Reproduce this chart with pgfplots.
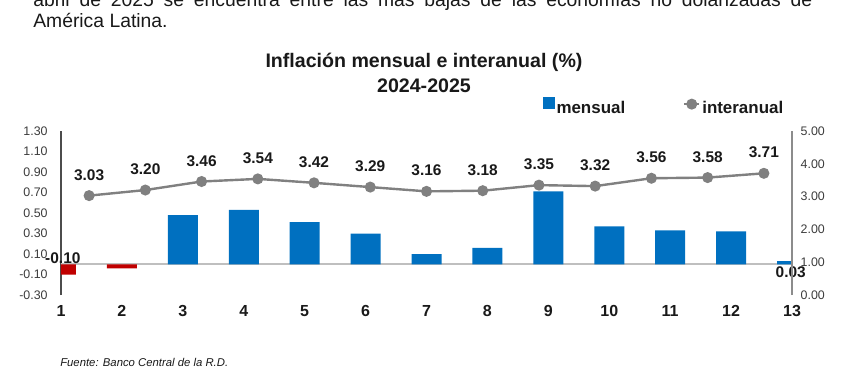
\documentclass[border=0pt]{standalone}
\usepackage{fontspec}
\setmainfont{Liberation Sans}
\usepackage{pgfplots}
\usepackage{pgfplotstable}
\pgfplotsset{compat=1.18}
\pgfkeys{/pgf/number format/assume math mode=true}
\definecolor{barblue}{RGB}{0,112,192}
\definecolor{barred}{RGB}{192,0,0}
\definecolor{linegray}{RGB}{128,128,128}
\definecolor{tickgray}{RGB}{60,60,60}
\definecolor{txt}{RGB}{25,25,25}
\pgfplotsset{
  intlegend/.style={legend image code/.code={\draw[##1, mark repeat=2, mark phase=2] plot coordinates {(0pt,3pt) (5.5pt,3pt) (11pt,3pt)};}},
  barlegend/.style={legend image code/.code={\fill[barblue] (0pt,0pt) rectangle (8.25pt,8.25pt);}},
}

\pgfplotstableread{
x y
1 -0.10
2 -0.04
}\neg
\pgfplotstableread{
x y
3 0.48
4 0.53
5 0.41
6 0.30
7 0.10
8 0.16
9 0.71
10 0.37
11 0.33
12 0.32
13 0.03
}\pos
\pgfplotstableread{
x y
1 3.03
2 3.20
3 3.46
4 3.54
5 3.42
6 3.29
7 3.16
8 3.18
9 3.35
10 3.32
11 3.56
12 3.58
13 3.71
}\inter

\begin{document}
\begin{tikzpicture}
% paragraph text
\node[anchor=base west, inner sep=0, text=txt] at (33*0.75pt,-7*0.75pt)
  {\parbox[t]{584.25pt}{\fontsize{14.5}{15.75}\selectfont abril de 2025 se encuentra entre las más bajas de las economías no dolarizadas de\linebreak América Latina.}};
% title
\node[anchor=base, inner sep=0, text=txt, font=\bfseries\fontsize{14.7}{17}\selectfont] at (424*0.75pt,-68*0.75pt) {Inflación mensual e interanual (\%)};
\node[anchor=base, inner sep=0, text=txt, font=\bfseries\fontsize{14.7}{17}\selectfont] at (424*0.75pt,-93*0.75pt) {2024-2025};

\begin{axis}[
  at={(61*0.75pt,-295*0.75pt)}, anchor=south west,
  scale only axis, width=731*0.75pt, height=164*0.75pt,
  xmin=1, xmax=13, ymin=-0.3, ymax=1.3,
  axis x line*=bottom, axis y line*=left,
  x axis line style={draw=none},
  y axis line style={draw=black!70, line width=0.8pt, -},
  major tick length=0pt,
  xtick={1,...,13},
  xticklabel style={font=\bfseries\fontsize{12}{14}\selectfont, text=txt, yshift=-4pt},
  ytick={-0.3,-0.1,0.1,0.3,0.5,0.7,0.9,1.1,1.3},
  yticklabel style={font=\fontsize{9.3}{11}\selectfont, text=tickgray, xshift=-6.5pt,
    /pgf/number format/.cd, fixed, fixed zerofill, precision=2},
  clip mode=individual,
]
\addplot[draw=black!25, line width=1.2pt, forget plot] coordinates {(1,0) (13,0)};
\addplot[ybar, bar width=22.5pt, bar shift=0pt, fill=barred, draw=none] table {\neg};
\addplot[ybar, bar width=22.5pt, bar shift=0pt, fill=barblue, draw=none] table {\pos};
\node[font=\bfseries\fontsize{11.6}{13}\selectfont, text=txt, inner sep=0] at (axis cs:1.03,0.06) {-0.10};
\node[font=\bfseries\fontsize{11.6}{13}\selectfont, text=txt, inner sep=0] at (axis cs:12.98,-0.08) {0.03};
\end{axis}

\begin{axis}[
  at={(61*0.75pt,-295*0.75pt)}, anchor=south west,
  scale only axis, width=731*0.75pt, height=164*0.75pt,
  xmin=0.5, xmax=13.5, ymin=0, ymax=5,
  axis x line=none, axis y line*=right,
  y axis line style={draw=black!45, line width=0.8pt, -},
  major tick length=0pt,
  ytick={0,1,2,3,4,5},
  yticklabel style={font=\fontsize{9.3}{11}\selectfont, text=tickgray, xshift=3pt,
    /pgf/number format/.cd, fixed, fixed zerofill, precision=2},
  clip=false,
  legend columns=2,
  legend cell align=left,
  legend style={at={(0.659,1.146)}, anchor=west, draw=none, fill=none, inner sep=0pt,
    font=\bfseries\fontsize{12.7}{14}\selectfont, text=txt,
    nodes={inner sep=1.5pt},
    /tikz/every even column/.append style={column sep=42pt}},
]
\addlegendimage{barlegend}
\addlegendentry{mensual}
\addplot[color=linegray, line width=1.8pt, mark=*, mark size=3.2pt,
  mark options={fill=linegray, draw=linegray},
  nodes near coords={\pgfmathprintnumber[fixed,fixed zerofill,precision=2]{\pgfplotspointmeta}},
  every node near coord/.append style={font=\bfseries\fontsize{11.6}{13}\selectfont, text=txt, inner sep=0pt, anchor=base, yshift=11.6pt},
  intlegend
] table {\inter};
\addlegendentry{interanual}
\end{axis}

% source
\node[anchor=base west, inner sep=0, text=txt, font=\itshape\fontsize{8.5}{10}\selectfont] at (60*0.75pt,-366*0.75pt) {Fuente: Banco Central de la R.D.};

\pgfresetboundingbox
\path[use as bounding box] (0,0) rectangle (640.5pt,-294pt);
\end{tikzpicture}
\end{document}
